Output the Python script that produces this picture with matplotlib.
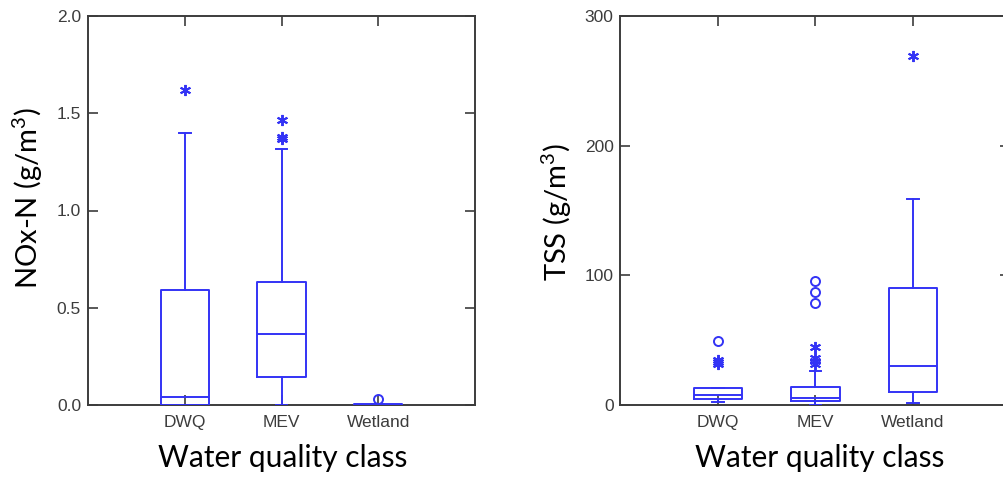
import matplotlib
matplotlib.use("Agg")
import matplotlib.pyplot as plt

plt.rcParams["font.family"] = ["Liberation Sans", "DejaVu Sans"]
plt.rcParams["mathtext.fontset"] = "custom"
plt.rcParams["mathtext.rm"] = "Lato"

# ---------------- data ----------------
categories = ["DWQ", "MEV", "Wetland"]

# NOx-N (g/m3)
nox_q1 = [0.0, 0.146, 0.0]
nox_med = [0.043, 0.365, 0.0]
nox_q3 = [0.59, 0.63, 0.005]
nox_whislo = [0.0, 0.0, 0.0]
nox_whishi = [1.40, 1.316, 0.005]
nox_star_outliers = [[1.62], [1.465, 1.38, 1.37], []]
nox_circle_outliers = [[], [], [0.032]]

# TSS (g/m3)
tss_q1 = [4.4, 3.1, 9.8]
tss_med = [7.7, 5.2, 30.4]
tss_q3 = [12.9, 14.2, 90.2]
tss_whislo = [2.2, 0.0, 1.8]
tss_whishi = [12.9, 26.3, 159.2]
tss_star_outliers = [[32, 33, 35], [32, 34, 36, 45], [269]]
tss_circle_outliers = [[49.7], [78.6, 87, 95.3], []]

nox_yticks = [0.0, 0.5, 1.0, 1.5, 2.0]
nox_yticklabels = ["0.0", "0.5", "1.0", "1.5", "2.0"]
tss_yticks = [0, 100, 200, 300]
tss_yticklabels = ["0", "100", "200", "300"]

# ---------------- style ----------------
BLUE = "#3333F5"
GREY = "#3c3c3c"
W, H = 1004, 479
fig = plt.figure(figsize=(W / 100, H / 100), dpi=100)

ax_bottom = (479 - 405) / H
ax_height = 389 / H
ax1 = fig.add_axes([88 / W, ax_bottom, 387 / W, ax_height])
ax2 = fig.add_axes([620.5 / W, ax_bottom, 390 / W, ax_height])

def draw_panel(ax, q1, med, q3, wlo, whi, stars, circles, yticks, yticklabels, ylim, ylabel, ylab_xy):
    positions = list(range(1, len(categories) + 1))
    stats = []
    for i, c in enumerate(categories):
        stats.append(dict(label=c, q1=q1[i], med=med[i], q3=q3[i],
                          whislo=wlo[i], whishi=whi[i], fliers=[]))
    lp = dict(color=BLUE, linewidth=1.4)
    ax.bxp(stats, positions=positions, widths=0.5, capwidths=0.12,
           showfliers=False, boxprops=lp, whiskerprops=lp, capprops=lp,
           medianprops=lp, manage_ticks=False, zorder=3)
    for p, s in zip(positions, stars):
        if s:
            ax.plot([p] * len(s), s, linestyle="none", marker=(6, 2, 0),
                    markersize=8, markeredgewidth=1.4, color=BLUE, zorder=4)
    for p, c in zip(positions, circles):
        if c:
            ax.plot([p] * len(c), c, linestyle="none", marker="o",
                    markersize=6.5, markerfacecolor="none", markeredgewidth=1.4,
                    markeredgecolor=BLUE, zorder=4)
    ax.set_xlim(0, 4)
    ax.set_ylim(*ylim)
    ax.set_xticks(positions)
    ax.set_xticklabels(categories)
    ax.set_yticks(yticks)
    ax.set_yticklabels(yticklabels)
    ax.tick_params(axis="both", direction="in", length=7, width=1.2,
                   color=GREY, labelcolor=GREY, labelsize=12.5,
                   top=True, right=True, bottom=True, left=True)
    ax.tick_params(axis="x", pad=7)
    ax.tick_params(axis="y", pad=5)
    for sp in ax.spines.values():
        sp.set_color(GREY)
        sp.set_linewidth(1.4)
    ax.set_ylabel(ylabel, fontsize=21, family="Lato", color="black", va="center")
    ax.yaxis.set_label_coords(*ylab_xy)
    ax.set_xlabel("Water quality class", fontsize=21.5, family="Lato",
                  color="black", va="center")

draw_panel(ax1, nox_q1, nox_med, nox_q3, nox_whislo, nox_whishi,
           nox_star_outliers, nox_circle_outliers, nox_yticks, nox_yticklabels,
           (0, 2.0), "NOx-N (g/m$^3$)", (-0.155, 0.532))
draw_panel(ax2, tss_q1, tss_med, tss_q3, tss_whislo, tss_whishi,
           tss_star_outliers, tss_circle_outliers, tss_yticks, tss_yticklabels,
           (0, 300), "TSS (g/m$^3$)", (-0.163, 0.496))

ax1.xaxis.set_label_coords(0.503, -0.136)
ax2.xaxis.set_label_coords(0.51, -0.136)

fig.savefig("out.png", dpi=100)
